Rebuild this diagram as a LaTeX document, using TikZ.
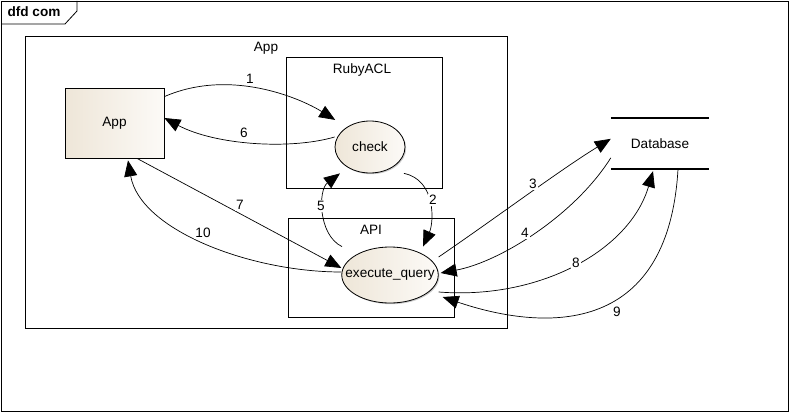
\documentclass[tikz,border=0pt]{standalone}
\usepackage{fontspec}
\setmainfont{Liberation Sans}
\usetikzlibrary{arrows.meta,shapes.geometric,shadows}
\definecolor{dfdtan}{RGB}{238,230,216}
\definecolor{dfdlight}{RGB}{252,250,247}

\begin{document}
\begin{tikzpicture}[x=1pt,y=-1pt,
    every node/.style={font=\fontsize{13.6}{16}\selectfont},
    frame/.style={draw,line width=0.8pt},
    shade/.style={drop shadow={shadow xshift=1.2pt,shadow yshift=-1.2pt,fill=black!40,opacity=0.5}},
    entity/.style={draw,line width=0.8pt,shade,left color=dfdtan,right color=dfdlight,
      minimum width=99pt,minimum height=70pt},
    proc/.style={ellipse,draw,line width=0.8pt,shade,left color=dfdtan,right color=dfdlight,inner sep=0pt},
    store/.style={minimum width=98pt,minimum height=51pt},
    flow/.style={-{Triangle[length=16pt,width=13pt]},line width=0.7pt},
    lbl/.style={fill=white,inner sep=1.5pt}]
  \useasboundingbox (0,0) rectangle (789,412);
  \draw[frame] (1,1) rectangle (788,411);
  % diagram tab
  \draw[frame] (1,24) -- (65,24) -- (77,11) -- (77,1);
  \node[font=\fontsize{13.6}{16}\selectfont\bfseries] (tab) at (34,12) {dfd com};

  % boundaries
  \draw[frame] (25,36) rectangle (507,328);
  \node (appttl) at (266,48) {App};
  \draw[frame] (286,57) rectangle (442,188);
  \node (aclttl) at (362,70) {RubyACL};
  \draw[frame] (288,218) rectangle (454,317);
  \node (apittl) at (371,230) {API};

  % elements
  \node[entity] (app) at (114.5,123) {App};
  \node[proc,minimum width=70pt,minimum height=52pt] (check) at (370,147) {check};
  \node[proc,inner xsep=-10.5pt,minimum height=56pt] (exq) at (390,275) {execute\_query};
  \node[store] (db) at (660,143.5) {Database};
  \draw[line width=1.6pt] (db.north west) -- (db.north east);
  \draw[line width=1.6pt] (db.south west) -- (db.south east);

  % flows
  \draw[flow] ([yshift=-9pt]app.north east) .. controls (230,68) and (300,98) .. ([shift={(-9pt,9pt)}]check.145);
  \draw[flow] ([yshift=10pt]check.west) .. controls (290,150) and (215,145) .. ([yshift=5pt]app.east);
  \draw[flow] ([xshift=22.5pt]app.south) -- ([yshift=7pt]exq.west);
  \draw[flow] ([yshift=3pt]exq.west) .. controls (250,272) and (140,230) .. ([xshift=13.5pt,yshift=-2pt]app.south);
  \draw[flow] ([xshift=-48pt]exq.north) .. controls (318,235) and (318,190) .. ([xshift=-30pt]check.south);
  \draw[flow] ([xshift=34pt]check.south) .. controls (436,180) and (434,222) .. ([xshift=33pt]exq.north);
  \draw[flow] ([yshift=18pt]exq.east) .. controls (500,215) and (560,170) .. ([yshift=-21pt]db.north west);
  \draw[flow] ([yshift=-40pt]db.north west) .. controls (575,215) and (500,262) .. ([xshift=2pt,yshift=2pt]exq.east);
  \draw[flow] ([yshift=-17pt]exq.east) .. controls (540,300) and (630,250) .. ([xshift=-7pt,yshift=-2pt]db.south);
  \draw[flow] ([xshift=18pt]db.south) .. controls (668,340) and (540,330) .. ([xshift=4pt,yshift=-22pt]exq.east);

  % flow numbers
  \foreach \n/\x/\y in {1/250/79, 6/244/133, 7/240/205, 10/203/233, 5/321/206,
                        2/433/200, 3/533/184, 4/525/233, 8/576/263, 9/617/312} {
    \node[lbl] (n\n) at (\x,\y) {\n};
  }
\end{tikzpicture}
\end{document}
